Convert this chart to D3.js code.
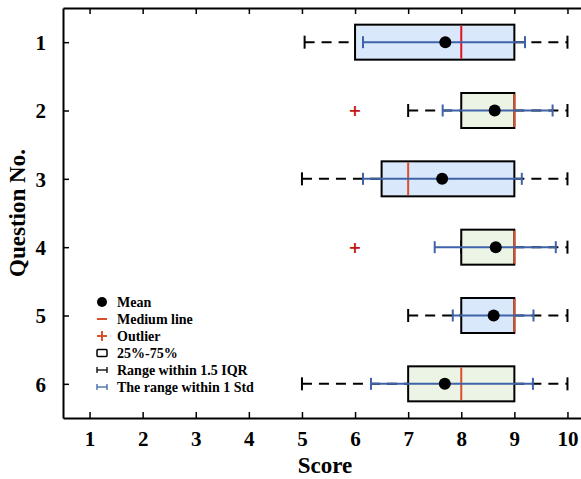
<!DOCTYPE html>
<html>
<head>
<meta charset="utf-8">
<script src="https://cdn.jsdelivr.net/npm/d3@7"></script>
<style>
  body { margin: 0; background: #fff; }
  text { font-family: "Liberation Serif", "Times New Roman", serif; font-weight: bold; }
</style>
</head>
<body>
<div id="chart"></div>
<script>
const questions = [1, 2, 3, 4, 5, 6];
const whiskerLow = [5.05, 7, 5, 8, 7, 5];
const whiskerHigh = [10, 10, 10, 10, 10, 10];
const q1 = [6, 8, 6.5, 8, 8, 7];
const q3 = [9, 9, 9, 9, 9, 9];
const medians = [8, 9, 7, 9, 9, 8];
const means = [7.7, 8.63, 7.64, 8.65, 8.61, 7.69];
const stdLow = [6.15, 7.65, 6.15, 7.5, 7.84, 6.3];
const stdHigh = [9.2, 9.72, 9.14, 9.78, 9.36, 9.35];
const outliers = [{ q: 2, v: 6 }, { q: 4, v: 6 }];
const xTicks = [1, 2, 3, 4, 5, 6, 7, 8, 9, 10];
const legendLabels = ['Mean', 'Medium line', 'Outlier', '25%-75%', 'Range within 1.5 IQR', 'The range within 1 Std'];

const data = questions.map((q, i) => ({
  q, lo: whiskerLow[i], hi: whiskerHigh[i], q1: q1[i], q3: q3[i],
  med: medians[i], mean: means[i], sLo: stdLow[i], sHi: stdHigh[i]
}));

const width = 581, height = 479;
const blue = '#3f63a8', red = '#d9502a';
const fills = ['#dae8fb', '#ecf4e6'];

const x = d3.scaleLinear().domain([0.5, 10.255]).range([63, 581]);
const y = d3.scaleLinear().domain([0.5, 6.5]).range([8, 418]);

const svg = d3.select('#chart').append('svg')
  .attr('width', width).attr('height', height);

// axes
const axBottom = svg.append('g').attr('transform', `translate(0,${y(6.5)})`)
  .call(d3.axisBottom(x).tickValues(xTicks).tickFormat(d3.format('d'))
    .tickSizeInner(-6).tickSizeOuter(0).tickPadding(13));
const axTop = svg.append('g').attr('transform', `translate(0,${y(0.5)})`)
  .call(d3.axisTop(x).tickValues(xTicks).tickSizeInner(-6).tickSizeOuter(0).tickFormat(''));
const axLeft = svg.append('g').attr('transform', `translate(${x(0.5)},0)`)
  .call(d3.axisLeft(y).tickValues(questions).tickFormat(d3.format('d'))
    .tickSizeInner(-6).tickSizeOuter(0).tickPadding(17));

[axBottom, axTop, axLeft].forEach(g => {
  g.select('.domain').attr('stroke', '#000').attr('stroke-width', 2);
  g.selectAll('.tick line').attr('stroke', '#000').attr('stroke-width', 1.5);
  g.selectAll('.tick text').attr('fill', '#000').style('font-size', '21px')
    .style('font-family', '"Liberation Serif", serif').style('font-weight', 'bold');
});
axLeft.selectAll('.tick text').attr('dy', '0.35em');

svg.append('text').attr('x', 325).attr('y', 473).attr('text-anchor', 'middle')
  .style('font-size', '23px').text('Score');
svg.append('text').attr('transform', `translate(25,${y(3.5)}) rotate(-90)`)
  .attr('text-anchor', 'middle').style('font-size', '23px').text('Question No.');

const bh = 17.5, cap = 6.5, scap = 6;
const g = svg.append('g').selectAll('g').data(data).join('g');

// whiskers dashed
g.append('line').attr('x1', d => x(d.lo)).attr('x2', d => x(d.q1))
  .attr('y1', d => y(d.q)).attr('y2', d => y(d.q))
  .attr('stroke', '#000').attr('stroke-width', 2).attr('stroke-dasharray', '10,7');
g.append('line').attr('x1', d => x(d.q3)).attr('x2', d => x(d.hi))
  .attr('y1', d => y(d.q)).attr('y2', d => y(d.q))
  .attr('stroke', '#000').attr('stroke-width', 2).attr('stroke-dasharray', '10,7');
g.append('line').attr('x1', d => x(d.lo)).attr('x2', d => x(d.lo))
  .attr('y1', d => y(d.q) - cap).attr('y2', d => y(d.q) + cap)
  .attr('stroke', '#000').attr('stroke-width', 2);
g.append('line').attr('x1', d => x(d.hi)).attr('x2', d => x(d.hi))
  .attr('y1', d => y(d.q) - cap).attr('y2', d => y(d.q) + cap)
  .attr('stroke', '#000').attr('stroke-width', 2);

// box
g.append('rect').attr('x', d => x(d.q1)).attr('width', d => x(d.q3) - x(d.q1))
  .attr('y', d => y(d.q) - bh).attr('height', bh * 2)
  .attr('fill', (d, i) => fills[i % 2]).attr('stroke', '#000').attr('stroke-width', 2);

// median
g.append('line').attr('x1', d => x(d.med)).attr('x2', d => x(d.med))
  .attr('y1', d => y(d.q) - bh + 1).attr('y2', d => y(d.q) + bh - 1)
  .attr('stroke', (d, i) => i === 0 ? '#e0141e' : red).attr('stroke-width', 2);

// std range
g.append('line').attr('x1', d => x(d.sLo)).attr('x2', d => x(d.sHi))
  .attr('y1', d => y(d.q)).attr('y2', d => y(d.q))
  .attr('stroke', blue).attr('stroke-width', 2);
g.append('line').attr('x1', d => x(d.sLo)).attr('x2', d => x(d.sLo))
  .attr('y1', d => y(d.q) - scap).attr('y2', d => y(d.q) + scap)
  .attr('stroke', blue).attr('stroke-width', 2);
g.append('line').attr('x1', d => x(d.sHi)).attr('x2', d => x(d.sHi))
  .attr('y1', d => y(d.q) - scap).attr('y2', d => y(d.q) + scap)
  .attr('stroke', blue).attr('stroke-width', 2);

// mean
g.append('circle').attr('cx', d => x(d.mean)).attr('cy', d => y(d.q)).attr('r', 6).attr('fill', '#000');

// outliers
svg.append('g').selectAll('text').data(outliers).join('text')
  .attr('x', d => x(d.v)).attr('y', d => y(d.q)).attr('dy', '0.35em')
  .attr('text-anchor', 'middle').attr('fill', '#c41414')
  .style('font-family', '"DejaVu Sans", sans-serif').style('font-size', '16px').text('+');

// legend
const lx = 102, ly0 = 302, lstep = 17;
const leg = svg.append('g');
legendLabels.forEach((t, i) => {
  const yy = ly0 + i * lstep;
  leg.append('text').attr('x', 117).attr('y', yy).attr('dy', '0.35em')
    .style('font-size', '14px').text(t);
});
leg.append('circle').attr('cx', lx).attr('cy', ly0).attr('r', 5).attr('fill', '#000');
leg.append('line').attr('x1', lx - 5).attr('x2', lx + 5).attr('y1', ly0 + lstep).attr('y2', ly0 + lstep)
  .attr('stroke', red).attr('stroke-width', 2);
leg.append('line').attr('x1', lx - 5).attr('x2', lx + 5).attr('y1', ly0 + 2 * lstep).attr('y2', ly0 + 2 * lstep)
  .attr('stroke', red).attr('stroke-width', 2);
leg.append('line').attr('x1', lx).attr('x2', lx).attr('y1', ly0 + 2 * lstep - 5).attr('y2', ly0 + 2 * lstep + 5)
  .attr('stroke', red).attr('stroke-width', 2);
leg.append('rect').attr('x', lx - 5).attr('y', ly0 + 3 * lstep - 3.5).attr('width', 10).attr('height', 7)
  .attr('fill', 'none').attr('stroke', '#000').attr('stroke-width', 1.5).attr('rx', 1);
[[4, '#000'], [5, blue]].forEach(([k, c]) => {
  const yy = ly0 + k * lstep;
  leg.append('line').attr('x1', lx - 5).attr('x2', lx + 5).attr('y1', yy).attr('y2', yy)
    .attr('stroke', c).attr('stroke-width', 1.3);
  leg.append('line').attr('x1', lx - 5).attr('x2', lx - 5).attr('y1', yy - 3).attr('y2', yy + 3).attr('stroke', c).attr('stroke-width', 1.3);
  leg.append('line').attr('x1', lx + 5).attr('x2', lx + 5).attr('y1', yy - 3).attr('y2', yy + 3).attr('stroke', c).attr('stroke-width', 1.3);
});
</script>
</body>
</html>
